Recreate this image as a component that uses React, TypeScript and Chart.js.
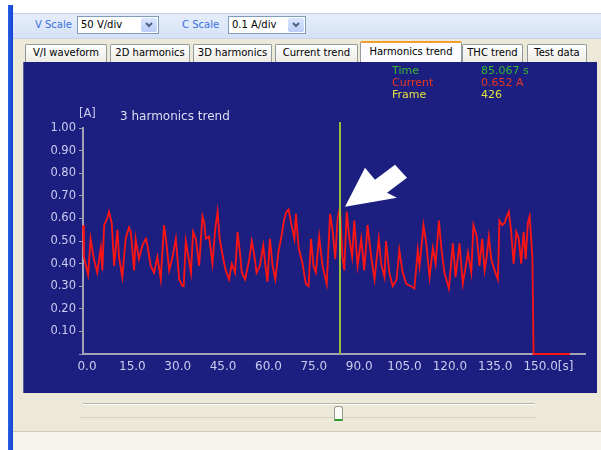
import React, { useEffect, useRef } from "react";
import { Chart, registerables } from "chart.js";

Chart.register(...registerables);

// ---- data ----
const times = [
  0.0, 0.3, 1.7, 2.5, 3.6, 4.7, 5.9, 6.4, 7.0, 8.0, 8.6, 9.5, 10.3, 11.4, 11.9, 13.0, 14.1, 15.2, 15.8, 16.9,
  17.4, 18.5, 19.6, 20.8, 21.3, 22.4, 23.5, 24.6, 25.7, 26.8, 27.6, 28.5, 29.6, 30.7, 31.8, 32.9, 33.3, 34.0,
  34.5, 35.7, 36.4, 37.3, 38.4, 39.5, 40.1, 40.6, 41.7, 42.8, 43.7, 44.5, 45.2, 46.1, 47.2, 48.3, 49.2, 50.3,
  51.1, 51.9, 52.5, 53.6, 55.0, 55.8, 56.6, 57.4, 58.5, 59.6, 60.5, 61.0, 61.8, 62.7, 63.6, 64.7, 65.5, 66.6,
  67.3, 68.0, 68.8, 69.9, 70.4, 71.3, 72.6, 73.7, 74.6, 75.4, 76.2, 77.0, 78.1, 79.2, 80.6, 81.7, 82.6, 83.4,
  84.2, 85.0, 85.8, 86.4, 87.2, 88.1, 89.0, 89.7, 90.8, 92.0, 93.0, 94.1, 95.3, 96.4, 97.8, 98.6, 99.7, 100.2,
  101.3, 102.4, 103.7, 104.6, 105.7, 106.9, 108.5, 109.6, 110.7, 111.3, 112.6, 113.5, 114.6, 115.7, 116.6,
  117.7, 118.4, 119.5, 121.0, 122.3, 123.2, 124.5, 125.6, 127.3, 128.4, 129.1, 130.2, 131.1, 132.0, 132.8,
  133.5, 134.2, 135.0, 136.1, 137.2, 137.7, 138.6, 139.4, 140.2, 140.8, 141.6, 142.4, 143.3, 144.1, 144.9,
  145.7, 146.4, 147.1, 147.7, 148.6, 149.0, 161.0,
];
const currents = [
  0.57, 0.43, 0.35, 0.51, 0.42, 0.36, 0.47, 0.37, 0.57, 0.60, 0.63, 0.58, 0.39, 0.55, 0.43, 0.34, 0.51, 0.56, 0.54, 0.37,
  0.51, 0.42, 0.48, 0.51, 0.48, 0.39, 0.36, 0.43, 0.33, 0.57, 0.49, 0.37, 0.43, 0.51, 0.33, 0.30, 0.30, 0.50,
  0.46, 0.36, 0.54, 0.51, 0.39, 0.61, 0.58, 0.51, 0.52, 0.40, 0.55, 0.63, 0.51, 0.44, 0.37, 0.33, 0.40, 0.36,
  0.54, 0.45, 0.36, 0.33, 0.42, 0.50, 0.44, 0.36, 0.39, 0.48, 0.37, 0.32, 0.51, 0.39, 0.33, 0.46, 0.51, 0.60,
  0.63, 0.64, 0.58, 0.51, 0.62, 0.47, 0.40, 0.31, 0.30, 0.51, 0.39, 0.36, 0.52, 0.39, 0.31, 0.62, 0.54, 0.42,
  0.60, 0.65, 0.43, 0.37, 0.63, 0.51, 0.43, 0.59, 0.39, 0.51, 0.37, 0.57, 0.43, 0.33, 0.51, 0.40, 0.34, 0.50,
  0.36, 0.30, 0.33, 0.46, 0.36, 0.31, 0.30, 0.29, 0.46, 0.39, 0.57, 0.49, 0.34, 0.47, 0.40,
  0.59, 0.48, 0.36, 0.29, 0.49, 0.34, 0.49, 0.31, 0.45, 0.36, 0.57, 0.52, 0.39, 0.51, 0.37,
  0.43, 0.52, 0.42, 0.37, 0.33, 0.59, 0.57, 0.58, 0.61, 0.63, 0.54, 0.40, 0.54, 0.51, 0.40,
  0.54, 0.42, 0.58, 0.61, 0.43, 0.0, 0.0,
];
const xTickValues = [0, 15, 30, 45, 60, 75, 90, 105, 120, 135, 150];
const xMax = 166;
const yMin = 0;
const yMax = 1;
const yStep = 0.1;
const cursorTime = 85.067;
const cursorCurrent = 0.652;
const frameNo = 426;
const chartTitle = "3 harmonics trend";
const yUnit = "[A]";
const xUnit = "[s]";
const tabs = ["V/I waveform", "2D harmonics", "3D harmonics", "Current trend", "Harmonics trend", "THC trend", "Test data"];
const activeTab = "Harmonics trend";

const FONT = "'DejaVu Sans', Verdana, sans-serif";
const NAVY = "#1c1f7f";
const TICK_COLOR = "#c9ccef";

const tabLeft = [25, 110, 193, 275, 360, 462, 527];
const tabWidth = [82, 80, 79, 83, 102, 61, 60];

function Dropdown({ left, width, text }: { left: number; width: number; text: string }) {
  return (
    <div
      style={{
        position: "absolute",
        left,
        top: 16,
        width,
        height: 18,
        background: "#fff",
        border: "1px solid #7f9db9",
        boxSizing: "border-box",
        fontFamily: FONT,
        fontSize: 10,
        lineHeight: "16px",
        paddingLeft: 3,
        color: "#000",
      }}
    >
      {text}
      <div
        style={{
          position: "absolute",
          right: 1,
          top: 1,
          width: 16,
          height: 14,
          background: "linear-gradient(#dbe6fd, #b9cdf8)",
          borderRadius: 2,
        }}
      >
        <svg width="16" height="14" style={{ position: "absolute", left: 0, top: 0 }}>
          <polyline points="5,5 8,8 11,5" fill="none" stroke="#4d6185" strokeWidth="2" />
        </svg>
      </div>
    </div>
  );
}

export default function App() {
  const canvasRef = useRef<HTMLCanvasElement | null>(null);

  useEffect(() => {
    const canvas = canvasRef.current;
    if (!canvas) return;

    const overlay = {
      id: "overlay",
      afterDatasetsDraw(chart: any) {
        const { ctx, chartArea, scales } = chart;
        const xs = scales.x;
        const ys = scales.y;
        ctx.save();
        // cursor line
        const cx = Math.round(xs.getPixelForValue(cursorTime));
        ctx.strokeStyle = "#94bd3c";
        ctx.lineWidth = 2;
        ctx.beginPath();
        ctx.moveTo(cx, chartArea.top - 6);
        ctx.lineTo(cx, chartArea.bottom);
        ctx.stroke();
        // arrow
        const tx = cx + 5;
        const ty = ys.getPixelForValue(cursorCurrent);
        const pts = [
          [0, 0],
          [20, -39],
          [30, -27],
          [50, -42],
          [62, -29],
          [42, -14],
          [52, -9],
        ];
        ctx.fillStyle = "#ffffff";
        ctx.beginPath();
        pts.forEach(([dx, dy], i) => {
          if (i === 0) ctx.moveTo(tx + dx, ty + dy);
          else ctx.lineTo(tx + dx, ty + dy);
        });
        ctx.closePath();
        ctx.fill();
        ctx.restore();
      },
      afterDraw(chart: any) {
        const { ctx, chartArea, scales } = chart;
        ctx.save();
        ctx.textBaseline = "middle";
        // title
        ctx.font = `12px ${FONT}`;
        ctx.fillStyle = "#dcdef4";
        ctx.textAlign = "left";
        ctx.fillText(chartTitle, chartArea.left + 37, chartArea.top - 11);
        // y unit
        ctx.font = `11.5px ${FONT}`;
        ctx.fillStyle = TICK_COLOR;
        ctx.fillText(yUnit, chartArea.left - 4, chartArea.top - 14);
        // x unit after last tick label
        ctx.font = `12px ${FONT}`;
        const last = xTickValues[xTickValues.length - 1];
        const lx = scales.x.getPixelForValue(last) + 4;
        const w = ctx.measureText(last.toFixed(1)).width;
        ctx.fillText(xUnit, lx + w / 2, chartArea.bottom + 13);
        // info block
        ctx.font = `11px ${FONT}`;
        const rows = [
          ["Time", `${cursorTime.toFixed(3)} s`, "#37b834"],
          ["Current", `${cursorCurrent.toFixed(3)} A`, "#e8361f"],
          ["Frame", `${frameNo}`, "#e4e03a"],
        ];
        rows.forEach(([label, value, color], i) => {
          ctx.fillStyle = color;
          ctx.fillText(label, 369, 9 + i * 12);
          ctx.fillText(value, 458, 9 + i * 12);
        });
        ctx.restore();
      },
    };

    const chart = new Chart(canvas, {
      type: "line",
      data: {
        datasets: [
          {
            data: times.map((t, i) => ({ x: t, y: currents[i] })),
            borderColor: "#ff1414",
            borderWidth: 1.8,
            pointRadius: 0,
            tension: 0,
            fill: false,
            clip: 4,
          },
        ],
      },
      options: {
        animation: false,
        responsive: false,
        layout: { padding: { top: 66, right: 12, left: 0, bottom: 0 } },
        plugins: { legend: { display: false }, tooltip: { enabled: false }, title: { display: false } },
        scales: {
          x: {
            type: "linear",
            min: 0,
            max: xMax,
            afterBuildTicks: (scale: any) => {
              scale.ticks = xTickValues.map((v) => ({ value: v }));
            },
            afterFit: (scale: any) => {
              scale.height = 39;
            },
            ticks: {
              color: TICK_COLOR,
              font: { family: FONT, size: 12 },
              padding: 6,
              labelOffset: 4,
              maxRotation: 0,
              autoSkip: false,
              callback: (v: any) => Number(v).toFixed(1),
            },
            grid: { drawOnChartArea: false, drawTicks: false, color: "#9c9cb0" },
            border: { color: "#a3a3b5", width: 2 },
          },
          y: {
            min: yMin,
            max: yMax,
            afterFit: (scale: any) => {
              scale.width = 60;
            },
            ticks: {
              stepSize: yStep,
              color: TICK_COLOR,
              font: { family: FONT, size: 11.5 },
              padding: 3,
              callback: (v: any) => (Number(v) === 0 ? "" : Number(v).toFixed(2)),
            },
            grid: { drawOnChartArea: false, drawTicks: true, tickLength: 4, color: "#9c9cb0" },
            border: { color: "#a3a3b5", width: 2 },
          },
        },
      },
      plugins: [overlay],
    } as any);

    return () => chart.destroy();
  }, []);

  return (
    <div style={{ position: "relative", width: 601, height: 450, background: "#fff", overflow: "hidden", fontFamily: FONT }}>
      <style>{`body{margin:0}`}</style>
      {/* window body */}
      <div style={{ position: "absolute", left: 13, top: 13, right: 0, bottom: 0, background: "#ece9d8" }} />
      {/* left blue frame */}
      <div style={{ position: "absolute", left: 8, top: 5, width: 5, height: 445, background: "linear-gradient(90deg,#2a5ee8,#1444d2)" }} />
      {/* toolbar */}
      <div
        style={{
          position: "absolute",
          left: 13,
          top: 13,
          right: 0,
          height: 24,
          background: "linear-gradient(#e6eefa, #d5e2f5)",
          borderTop: "1px solid #c3cfdf",
          borderBottom: "1px solid #c8d4e6",
        }}
      />
      <div style={{ position: "absolute", left: 35, top: 19, fontSize: 10, color: "#3a72e0" }}>V Scale</div>
      <Dropdown left={77} width={82} text="50 V/div" />
      <div style={{ position: "absolute", left: 182, top: 19, fontSize: 10, color: "#3a72e0" }}>C Scale</div>
      <Dropdown left={228} width={78} text="0.1 A/div" />
      {/* tabs */}
      {tabs.map((t, i) => {
        const active = t === activeTab;
        return (
          <div
            key={t}
            style={{
              position: "absolute",
              left: tabLeft[i],
              top: active ? 41 : 44,
              width: tabWidth[i],
              height: active ? 21 : 18,
              boxSizing: "border-box",
              background: active ? "#fcfcfe" : "linear-gradient(#ffffff, #ecebe5)",
              border: "1px solid #919b9c",
              borderBottom: "none",
              borderTop: active ? "2px solid #f0a030" : "1px solid #919b9c",
              borderRadius: "2px 2px 0 0",
              fontSize: 10,
              lineHeight: active ? "17px" : "16px",
              textAlign: "center",
              color: "#000",
              whiteSpace: "nowrap",
              zIndex: active ? 2 : 1,
            }}
          >
            {t}
          </div>
        );
      })}
      {/* navy panel */}
      <div style={{ position: "absolute", left: 23, top: 62, width: 574, height: 331, background: NAVY, borderLeft: "1px solid #5a5c9a", boxSizing: "border-box" }} />
      <canvas ref={canvasRef} width={574} height={331} style={{ position: "absolute", left: 23, top: 62, width: 574, height: 331 }} />
      {/* slider */}
      <div style={{ position: "absolute", left: 83, top: 403, width: 452, height: 1, background: "#b9b6a6", borderBottom: "1px solid #fff" }} />
      <div style={{ position: "absolute", left: 80, top: 417, width: 456, height: 1, background: "#d6d3c4" }} />
      <div
        style={{
          position: "absolute",
          left: 334,
          top: 406,
          width: 9,
          height: 15,
          boxSizing: "border-box",
          background: "#fbfbf8",
          border: "1px solid #9a9a90",
          borderBottom: "2px solid #2c9d2c",
          borderRadius: "3px 3px 1px 1px",
        }}
      />
      <div style={{ position: "absolute", left: 13, top: 431, right: 0, height: 1, background: "#cdcab9" }} />
      <div style={{ position: "absolute", left: 13, top: 432, right: 0, bottom: 0, background: "#f4f3ec" }} />
    </div>
  );
}
